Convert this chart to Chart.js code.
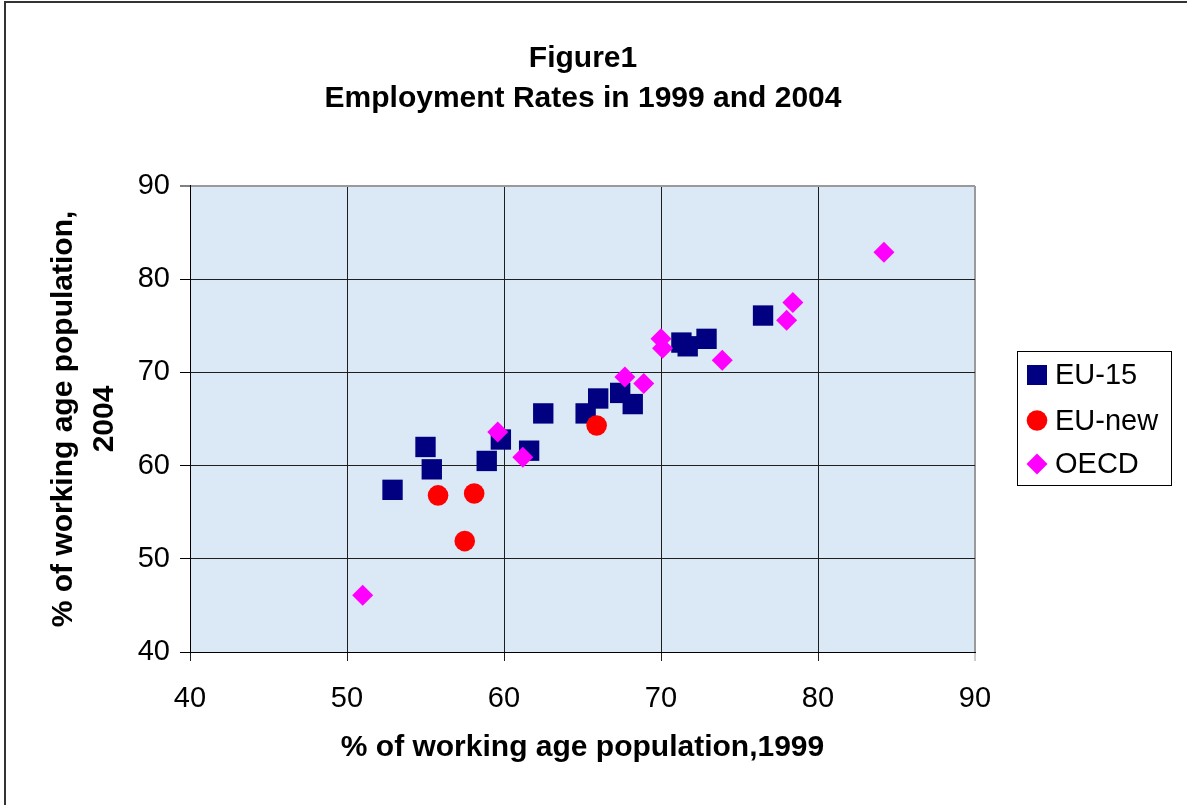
<!DOCTYPE html>
<html>
<head>
<meta charset="utf-8">
<title>Employment Rates in 1999 and 2004</title>
<script src="https://cdn.jsdelivr.net/npm/chart.js@4.4.1/dist/chart.umd.min.js"></script>
<style>
  html, body { margin: 0; padding: 0; background: #ffffff; }
  #wrap { position: relative; width: 1187px; height: 805px; }
</style>
</head>
<body>
<div id="wrap"><canvas id="chart"></canvas></div>
<script>
// Employment rates (% of working age population), 1999 vs 2004
const seriesNames = ['EU-15', 'EU-new', 'OECD'];

const eu15Rate1999 = [52.9, 55.0, 55.4, 58.9, 59.8, 61.6, 62.5, 65.2, 66.0, 67.4, 68.2, 71.3, 71.7, 72.9, 76.5];
const eu15Rate2004 = [57.4, 62.0, 59.6, 60.5, 62.8, 61.6, 65.6, 65.6, 67.2, 67.8, 66.6, 73.2, 72.8, 73.6, 76.1];

const euNewRate1999 = [55.8, 57.5, 58.1, 65.9];
const euNewRate2004 = [56.8, 51.9, 57.0, 64.3];

const oecdRate1999 = [51.0, 59.6, 61.2, 67.7, 68.9, 70.0, 70.1, 73.9, 78.0, 78.4, 84.2];
const oecdRate2004 = [46.1, 63.6, 60.9, 69.5, 68.8, 73.6, 72.6, 71.3, 75.6, 77.5, 82.9];

const axisTicks = [40, 50, 60, 70, 80, 90];

const titleLines = ['Figure1', 'Employment Rates in 1999 and 2004'];
const xAxisTitle = '% of working age population,1999';
const yAxisTitle = ['% of working age population,', '2004'];

const FONT = "'Liberation Sans', Arial, Helvetica, sans-serif";

function toPoints(xs, ys) {
  return xs.map((x, i) => ({ x: x, y: ys[i] }));
}

// White page, framed edge, and the light blue plot-area fill
const framePlugin = {
  id: 'frame',
  beforeDraw(chart) {
    const { ctx, chartArea: a, width, height } = chart;
    ctx.save();
    ctx.fillStyle = '#ffffff';
    ctx.fillRect(0, 0, width, height);
    ctx.fillStyle = '#dbe8f5';
    ctx.fillRect(a.left, a.top, a.right - a.left, a.bottom - a.top);
    ctx.strokeStyle = '#333333';
    ctx.lineWidth = 2;
    ctx.beginPath();
    ctx.moveTo(5, height + 4);
    ctx.lineTo(5, 2);
    ctx.lineTo(width + 4, 2);
    ctx.stroke();
    ctx.restore();
  }
};

// Boxed legend to the right of the plot area
const boxLegendPlugin = {
  id: 'boxLegend',
  afterDraw(chart) {
    const ctx = chart.ctx;
    const box = { left: 1017.5, top: 351.5, width: 154, height: 134 };
    const rows = [375, 420.5, 464];
    const markX = 1037;
    ctx.save();
    ctx.strokeStyle = '#000000';
    ctx.lineWidth = 1;
    ctx.strokeRect(box.left, box.top, box.width, box.height);
    chart.data.datasets.forEach((ds, i) => {
      const y = rows[i];
      ctx.fillStyle = ds.backgroundColor;
      ctx.beginPath();
      if (ds.pointStyle === 'rect') {
        ctx.rect(markX - 10, y - 10, 20, 20);
      } else if (ds.pointStyle === 'circle') {
        ctx.arc(markX, y, 10.3, 0, Math.PI * 2);
      } else {
        const r = 10.5;
        ctx.moveTo(markX, y - r);
        ctx.lineTo(markX + r, y);
        ctx.lineTo(markX, y + r);
        ctx.lineTo(markX - r, y);
        ctx.closePath();
      }
      ctx.fill();
      ctx.fillStyle = '#000000';
      ctx.font = '29px ' + FONT;
      ctx.textAlign = 'left';
      ctx.textBaseline = 'middle';
      ctx.fillText(ds.label, 1055, y + 1);
    });
    ctx.restore();
  }
};

const gridColor = (c) => (c.tick && c.tick.value === 90 ? '#9a9a9a' : '#1e1e1e');
const gridWidth = (c) => (c.tick && c.tick.value === 90 ? 2 : 1);

new Chart(document.getElementById('chart'), {
  type: 'scatter',
  data: {
    datasets: [
      {
        label: seriesNames[0],
        data: toPoints(eu15Rate1999, eu15Rate2004),
        backgroundColor: '#000080',
        borderColor: '#000080',
        pointStyle: 'rect',
        pointRadius: 14.4,
        pointBorderWidth: 0,
        order: 3
      },
      {
        label: seriesNames[1],
        data: toPoints(euNewRate1999, euNewRate2004),
        backgroundColor: '#ff0000',
        borderColor: '#ff0000',
        pointStyle: 'circle',
        pointRadius: 10.3,
        pointBorderWidth: 0,
        order: 2
      },
      {
        label: seriesNames[2],
        data: toPoints(oecdRate1999, oecdRate2004),
        backgroundColor: '#ff00ff',
        borderColor: '#ff00ff',
        pointStyle: 'rectRot',
        pointRadius: 10.5,
        pointBorderWidth: 0,
        order: 1
      }
    ]
  },
  options: {
    responsive: true,
    maintainAspectRatio: false,
    animation: false,
    events: [],
    layout: { padding: { left: 0, right: 21, top: 0, bottom: 0 } },
    plugins: {
      legend: { display: false },
      tooltip: { enabled: false },
      title: {
        display: true,
        text: titleLines,
        color: '#000000',
        font: { family: FONT, size: 30, weight: 'bold', lineHeight: 1.3333 },
        padding: { top: 39, bottom: 67 }
      }
    },
    scales: {
      x: {
        type: 'linear',
        position: 'bottom',
        min: axisTicks[0],
        max: axisTicks[axisTicks.length - 1],
        afterBuildTicks: (s) => { s.ticks = axisTicks.map((v) => ({ value: v })); },
        afterFit: (s) => { s.height = 153; },
        ticks: {
          color: '#000000',
          font: { family: FONT, size: 29 },
          padding: 20.5,
          maxRotation: 0,
          autoSkip: false
        },
        grid: { color: gridColor, lineWidth: gridWidth, tickLength: 9, tickColor: gridColor, tickWidth: 1 },
        border: { display: true, color: '#000000', width: 1 },
        title: {
          display: true,
          text: xAxisTitle,
          color: '#000000',
          font: { family: FONT, size: 30, weight: 'bold', lineHeight: 1.2 },
          padding: { top: 0, bottom: 39 }
        }
      },
      y: {
        type: 'linear',
        position: 'left',
        min: axisTicks[0],
        max: axisTicks[axisTicks.length - 1],
        afterBuildTicks: (s) => { s.ticks = axisTicks.map((v) => ({ value: v })); },
        afterFit: (s) => { s.width = 190; },
        ticks: {
          color: '#000000',
          font: { family: FONT, size: 29 },
          padding: 10,
          autoSkip: false
        },
        grid: { color: gridColor, lineWidth: gridWidth, tickLength: 10, tickColor: '#000000', tickWidth: 1 },
        border: { display: true, color: '#000000', width: 1 },
        title: {
          display: true,
          text: yAxisTitle,
          color: '#000000',
          font: { family: FONT, size: 30, weight: 'bold', lineHeight: 1.3667 },
          padding: { top: 43, bottom: 0 }
        }
      },
      legendSpace: {
        type: 'linear',
        position: 'right',
        display: true,
        afterFit: (s) => { s.width = 191; },
        ticks: { display: false },
        grid: { display: false, drawTicks: false },
        border: { display: false }
      }
    }
  },
  plugins: [framePlugin, boxLegendPlugin]
});
</script>
</body>
</html>
